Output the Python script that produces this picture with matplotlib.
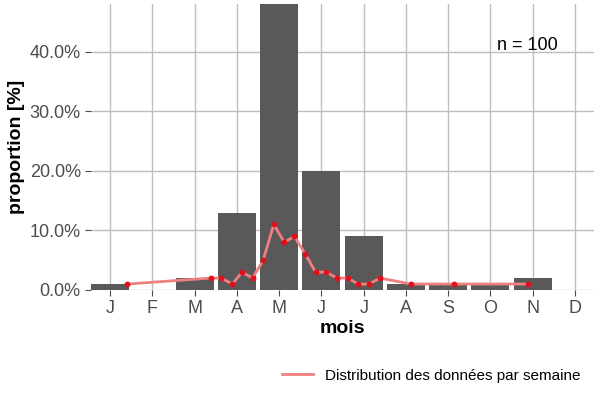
import matplotlib.pyplot as plt
from matplotlib.ticker import FuncFormatter

plt.rcParams['font.family'] = ['Liberation Sans', 'DejaVu Sans']

months = ["J", "F", "M", "A", "M", "J", "J", "A", "S", "O", "N", "D"]
month_pct = [1, 0, 2, 13, 50, 20, 9, 1, 1, 1, 2, 0]
week_pos = [1.40, 3.38, 3.63, 3.89, 4.12, 4.37, 4.62, 4.87, 5.12, 5.36, 5.62,
            5.86, 6.11, 6.37, 6.62, 6.87, 7.12, 7.39, 8.12, 9.13, 10.88]
week_pct = [1, 2, 2, 1, 3, 2, 5, 11, 8, 9, 6, 3, 3, 2, 2, 1, 1, 2, 1, 1, 1]

fig = plt.figure(figsize=(6, 4), dpi=100)
ax = fig.add_axes([0.152, 0.275, 0.838, 0.715])
x = list(range(1, 13))
ax.bar(x, month_pct, width=0.9, color="#595959", zorder=2)
ax.plot(week_pos, week_pct, color="#f08080", lw=2, zorder=3)
ax.scatter(week_pos, week_pct, color="#e0101a", s=10, zorder=4)
ax.set_xlim(0.55, 12.45)
ax.set_ylim(0, 48)
ax.set_xticks(x)
ax.set_xticklabels(months)
ax.set_yticks([0, 10, 20, 30, 40])
ax.yaxis.set_major_formatter(FuncFormatter(lambda v, p: f"{v:.1f}%"))
ax.grid(True, color="#bebebe", lw=1, zorder=0)
for s in ax.spines.values():
    s.set_visible(False)
ax.tick_params(labelsize=13, colors="#4d4d4d", length=4)
ax.set_xlabel("mois", fontsize=14, fontweight="bold", labelpad=2)
ax.set_ylabel("proportion [%]", fontsize=14, fontweight="bold", labelpad=3)
ax.text(11.6, 41, "n = 100", fontsize=13, ha="right", va="center")
ax.legend([plt.Line2D([], [], color="#f08080", lw=2)],
          ["Distribution des données par semaine"],
          loc="center right", bbox_to_anchor=(1.0, -0.3), frameon=False, fontsize=11)
fig.savefig("out.png")
